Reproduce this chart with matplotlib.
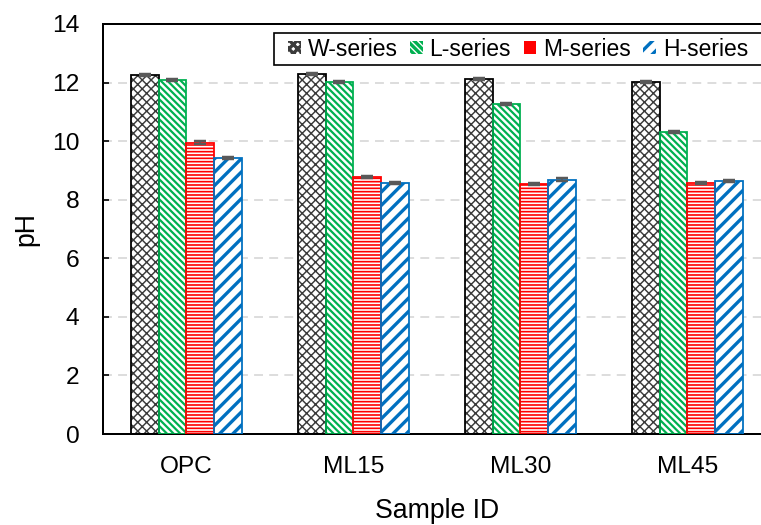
import matplotlib
matplotlib.use("Agg")
import matplotlib.pyplot as plt
from matplotlib.patches import Rectangle
import numpy as np

plt.rcParams['font.family'] = ['Liberation Sans', 'DejaVu Sans']

# data
samples = ["OPC", "ML15", "ML30", "ML45"]
series = ["W-series", "L-series", "M-series", "H-series"]
w_vals = [12.25, 12.30, 12.13, 12.02]
l_vals = [12.10, 12.02, 11.27, 10.30]
m_vals = [9.95, 8.78, 8.53, 8.58]
h_vals = [9.42, 8.57, 8.68, 8.65]
w_err = [0.04, 0.04, 0.03, 0.03]
l_err = [0.03, 0.03, 0.03, 0.03]
m_err = [0.04, 0.04, 0.04, 0.03]
h_err = [0.03, 0.03, 0.05, 0.04]
y_ticks = [0, 2, 4, 6, 8, 10, 12, 14]

values = [w_vals, l_vals, m_vals, h_vals]
errors = [w_err, l_err, m_err, h_err]
edge_cols = ["#000000", "#00B050", "#FF0000", "#0070C0"]
hatch_cols = ["#3A3A3A", "#00B050", "#FF0000", "#0070C0"]
hatches = ["xxx", "\\\\\\\\", "----", "//"]
hatch_lws = [1.3, 2.0, 1.5, 3.0]

DPI = 80
W, H = 761, 525
fig = plt.figure(figsize=(W / DPI, H / DPI), dpi=DPI)
ax = fig.add_axes([0.135, 0.1733, 0.878, 0.781])

x = np.arange(len(samples))
width = 0.166
offsets = [-1.5, -0.5, 0.5, 1.5]

for i in range(4):
    pos = x + offsets[i] * width
    plt.rcParams['hatch.linewidth'] = hatch_lws[i]
    bars = ax.bar(pos, values[i], width, color="white", edgecolor=hatch_cols[i],
                  hatch=hatches[i], linewidth=0, label=series[i], zorder=2)
    for b in bars:
        if hasattr(b, "set_hatch_linewidth"):
            b.set_hatch_linewidth(hatch_lws[i])
    ax.bar(pos, values[i], width, color="none", edgecolor=edge_cols[i],
           linewidth=1.6, zorder=3)
    ax.errorbar(pos, values[i], yerr=errors[i], fmt="none", ecolor="#595959",
                elinewidth=1.5, capsize=5.5, capthick=2.2, zorder=4)

ax.set_xlim(-0.5, 3.5)
ax.set_ylim(0, 14)
ax.set_yticks(y_ticks)
ax.set_xticks(x)
ax.set_xticklabels(samples)

ax.yaxis.grid(True, color="#D9D9D9", linestyle=(0, (5, 3.5)), linewidth=1.6, zorder=0)
ax.set_axisbelow(True)

for s in ["left", "bottom", "top"]:
    ax.spines[s].set_linewidth(1.8)
ax.spines["right"].set_visible(False)

ax.tick_params(axis="y", direction="in", length=5, width=1.5, labelsize=22, pad=21)
ax.tick_params(axis="x", length=0, labelsize=22, pad=20)

ax.set_ylabel("pH", fontsize=24, labelpad=11)
ax.set_xlabel("Sample ID", fontsize=24, labelpad=18)

# legend box drawn by hand so the padding matches
fig.patches.append(Rectangle((274 / W, 1 - 65 / H), (775 - 274) / W, 32 / H,
                             transform=fig.transFigure, facecolor="white",
                             edgecolor="black", linewidth=1.5, zorder=5))
leg = fig.legend(loc="center left", bbox_to_anchor=(288 / W, 1 - 49 / H), ncol=4,
                 fontsize=20.6, frameon=False,
                 handlelength=0.55, handleheight=0.55, handletextpad=0.3,
                 columnspacing=0.55, borderpad=0, borderaxespad=0)
leg.set_zorder(6)

fig.savefig("out.png", dpi=DPI)
